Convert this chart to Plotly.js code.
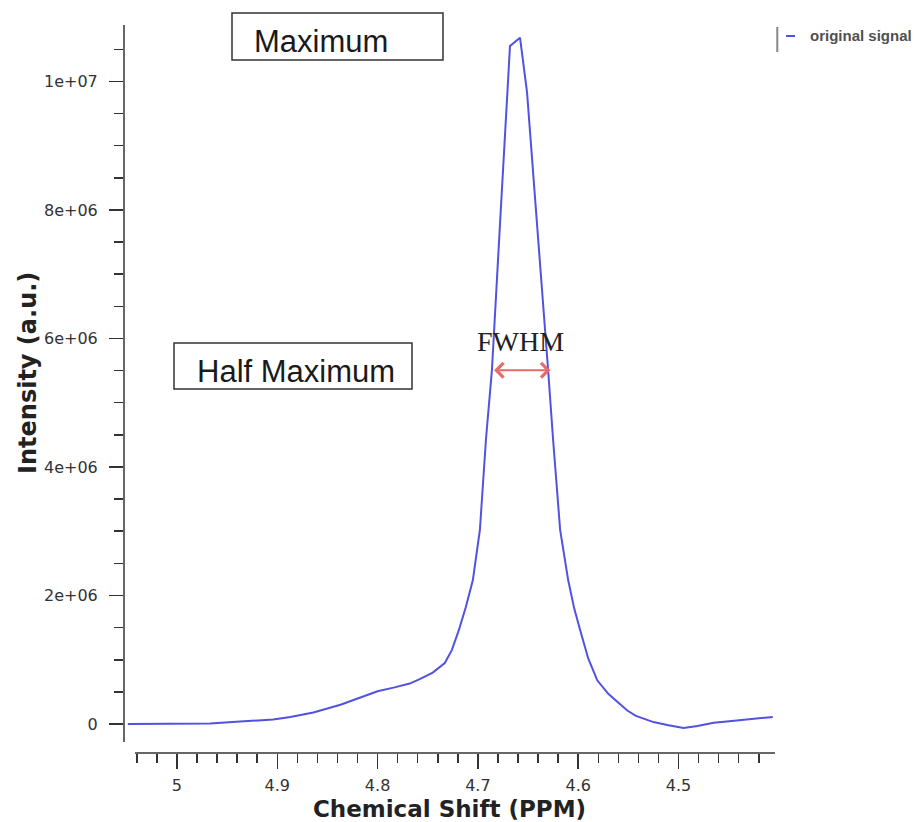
<!DOCTYPE html>
<html>
<head>
<meta charset="utf-8">
<script src="https://cdn.plot.ly/plotly-3.0.1.min.js"></script>
<style>
  html, body { margin: 0; padding: 0; background: #ffffff; }
  #chart { width: 914px; height: 822px; }
</style>
</head>
<body>
<div id="chart"></div>
<script>
// ---- data ----
const seriesName = "original signal";
const chemicalShiftPPM = [5.049, 5.027, 4.997, 4.967, 4.937, 4.904, 4.887, 4.864, 4.837, 4.825,
  4.800, 4.783, 4.768, 4.758, 4.745, 4.733, 4.726, 4.719, 4.712, 4.705,
  4.698, 4.692, 4.686, 4.678, 4.673, 4.668, 4.658, 4.651, 4.641, 4.635,
  4.630, 4.625, 4.618, 4.610, 4.604, 4.598, 4.590, 4.581, 4.570, 4.565,
  4.558, 4.551, 4.543, 4.525, 4.510, 4.495, 4.481, 4.465, 4.452, 4.439,
  4.422, 4.406];
const intensity = [0, 0, 0, 1.0e4, 4.0e4, 7.0e4, 1.1e5, 1.8e5, 3.0e5, 3.7e5,
  5.1e5, 5.7e5, 6.3e5, 7.0e5, 8.0e5, 9.5e5, 1.15e6, 1.46e6, 1.82e6, 2.24e6,
  3.02e6, 4.42e6, 5.51e6, 7.77e6, 9.15e6, 1.055e7, 1.068e7, 9.83e6, 7.77e6, 6.45e6,
  5.51e6, 4.42e6, 3.02e6, 2.24e6, 1.80e6, 1.46e6, 1.02e6, 6.8e5, 4.7e5, 4.0e5,
  3.0e5, 2.1e5, 1.3e5, 3.0e4, -2.0e4, -6.0e4, -3.0e4, 2.0e4, 4.0e4, 6.0e4,
  9.0e4, 1.1e5];

const xTickVals = [5, 4.9, 4.8, 4.7, 4.6, 4.5];
const xTickText = ["5", "4.9", "4.8", "4.7", "4.6", "4.5"];
const yTickVals = [0, 2e6, 4e6, 6e6, 8e6, 1e7];
const yTickText = ["0", "2e+06", "4e+06", "6e+06", "8e+06", "1e+07"];

const xTitle = "Chemical Shift (PPM)";
const yTitle = "Intensity (a.u.)";

const fwhmLeft = 4.6854, fwhmRight = 4.6276, halfMax = 5.505e6;

// ---- styling ----
const tickFont = { family: "DejaVu Sans, Verdana, sans-serif", size: 16, color: "#333333" };
const titleFont = { family: "DejaVu Sans, Verdana, sans-serif", size: 23, color: "#222222", weight: "bold" };
const boxFont = { family: "Liberation Sans, Arial, sans-serif", size: 31, color: "#1a1a1a" };

const trace = {
  type: "scatter",
  mode: "lines",
  name: seriesName,
  x: chemicalShiftPPM,
  y: intensity,
  line: { color: "#5252e2", width: 2 },
  showlegend: false
};

const layout = {
  width: 914,
  height: 822,
  margin: { l: 124, r: 139, t: 25, b: 69, pad: 0 },
  paper_bgcolor: "#ffffff",
  plot_bgcolor: "#ffffff",
  showlegend: false,
  xaxis: {
    range: [5.0528, 4.4038],
    autorange: false,
    tickmode: "array",
    tickvals: xTickVals,
    ticktext: xTickText,
    ticks: "outside",
    ticklen: 15,
    tickwidth: 1.5,
    tickcolor: "#333333",
    ticklabelstandoff: 3,
    tickfont: tickFont,
    minor: { tickmode: "linear", tick0: 5, dtick: 0.02, ticks: "outside", ticklen: 9, tickwidth: 1.5, tickcolor: "#333333", showgrid: false },
    showgrid: false,
    zeroline: false,
    showline: false,
    automargin: false,
    title: { text: xTitle, font: titleFont, standoff: 6 }
  },
  yaxis: {
    range: [-0.451e6, 10.878e6],
    autorange: false,
    tickmode: "array",
    tickvals: yTickVals,
    ticktext: yTickText,
    ticks: "outside",
    ticklen: 14,
    tickwidth: 1.5,
    tickcolor: "#333333",
    ticklabelstandoff: 8,
    tickfont: tickFont,
    minor: { tickmode: "linear", tick0: 0, dtick: 5e5, ticks: "outside", ticklen: 9, tickwidth: 1.5, tickcolor: "#333333", showgrid: false },
    showgrid: false,
    zeroline: false,
    showline: false,
    automargin: false
  },
  shapes: [
    // detached axis lines
    { type: "line", xref: "paper", yref: "paper", x0: 0, x1: 0, y0: 0.0151, y1: 1.0, line: { color: "#333333", width: 1.5 } },
    { type: "line", xref: "paper", yref: "paper", x0: 0.0169, x1: 1.0, y0: 0, y1: 0, line: { color: "#333333", width: 1.5 } },
    // label boxes
    { type: "rect", xref: "paper", yref: "paper", x0: 0.1659, x1: 0.4900, y0: 0.9519, y1: 1.0165, line: { color: "#333333", width: 1.5 }, fillcolor: "rgba(0,0,0,0)" },
    { type: "rect", xref: "paper", yref: "paper", x0: 0.0768, x1: 0.4424, y0: 0.5000, y1: 0.5632, line: { color: "#333333", width: 1.5 }, fillcolor: "rgba(0,0,0,0)" },
    // legend marker: grey bar + short blue line
    { type: "line", xref: "paper", yref: "paper", x0: 1.0035, x1: 1.0035, y0: 0.9629, y1: 0.9973, line: { color: "#888888", width: 2 } },
    { type: "line", xref: "paper", yref: "paper", x0: 1.0169, x1: 1.0307, y0: 0.9849, y1: 0.9849, line: { color: "#5252e2", width: 2 } }
  ],
  annotations: [
    { xref: "paper", yref: "paper", x: -0.1475, y: 0.522, xanchor: "center", yanchor: "middle", textangle: -90,
      text: yTitle, showarrow: false, font: { family: "DejaVu Sans, Verdana, sans-serif", size: 24, color: "#222222", weight: "bold" } },
    { xref: "paper", yref: "paper", x: 0.1966, y: 0.978, xanchor: "left", yanchor: "middle", text: "Maximum", showarrow: false, font: boxFont },
    { xref: "paper", yref: "paper", x: 0.1091, y: 0.5247, xanchor: "left", yanchor: "middle", text: "Half Maximum", showarrow: false, font: boxFont },
    { xref: "paper", yref: "paper", x: 0.6083, y: 0.5646, xanchor: "center", yanchor: "middle", text: "FWHM", showarrow: false,
      font: { family: "Liberation Serif, Times New Roman, serif", size: 28, color: "#222222" } },
    { xref: "x", yref: "y", axref: "x", ayref: "y", x: fwhmRight, y: halfMax, ax: fwhmLeft, ay: halfMax, text: "",
      showarrow: true, arrowside: "end+start", arrowhead: 4, startarrowhead: 4, arrowsize: 1.4, startarrowsize: 1.4,
      arrowwidth: 2, arrowcolor: "#e86a6a", standoff: 0, startstandoff: 0 },
    { xref: "paper", yref: "paper", x: 1.0507, y: 0.9849, xanchor: "left", yanchor: "middle", text: seriesName, showarrow: false,
      font: { family: "Liberation Sans, Arial, sans-serif", size: 15, color: "#505050", weight: "bold" } }
  ]
};

Plotly.newPlot("chart", [trace], layout, { displayModeBar: false, staticPlot: true });
</script>
</body>
</html>
